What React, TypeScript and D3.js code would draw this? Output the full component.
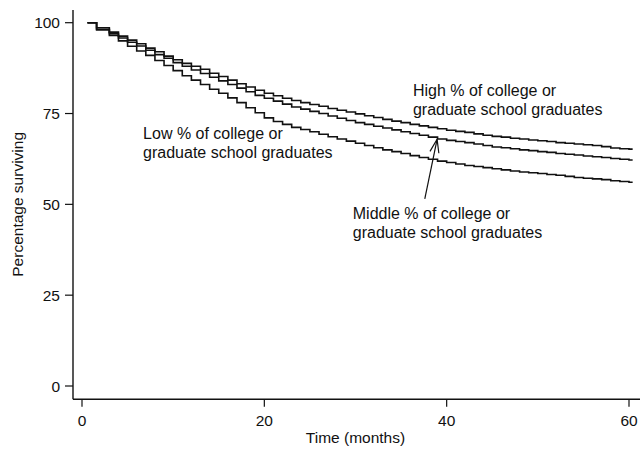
import React, { useRef, useEffect } from 'react';
import * as d3 from 'd3';

// Kaplan-Meier style survival estimates (percent surviving)
const months = [
  0.6, 1.6, 3, 4, 5, 6, 7, 8, 9, 10, 11, 12, 13, 14, 15, 16, 17, 18, 19, 20,
  21, 22, 23, 24, 25, 26, 27, 28, 29, 30, 31, 32, 33, 34, 35, 36, 37, 38, 39, 40,
  41, 42, 43, 44, 45, 46, 47, 48, 49, 50, 51, 52, 53, 54, 55, 56, 57, 58, 59, 60,
];
const followUpEnd = 60.4;

const highSurvival = [
  100, 98.6, 97.4, 96.3, 95.2, 94.2, 93.0, 92.0, 90.8, 89.8, 88.8, 88.0, 87.2, 86.1, 85.2, 84.2, 83.2, 82.3, 81.4, 80.6,
  79.9, 79.2, 78.6, 78.0, 77.5, 77.0, 76.4, 75.9, 75.4, 74.9, 74.4, 73.9, 73.4, 72.9, 72.5, 72.0, 71.6, 71.2, 70.8, 70.4,
  70.1, 69.8, 69.4, 69.0, 68.7, 68.5, 68.2, 68.0, 67.7, 67.5, 67.3, 67.0, 66.8, 66.6, 66.4, 66.2, 65.9, 65.5, 65.3, 65.2,
];
const middleSurvival = [
  100, 98.2, 97.0, 95.8, 94.6, 93.6, 92.4, 91.2, 90.2, 89.0, 88.0, 87.0, 86.0, 85.0, 84.0, 83.0, 82.0, 81.0, 80.0, 79.2,
  78.4, 77.6, 76.8, 76.2, 75.6, 75.0, 74.3, 73.7, 73.1, 72.5, 72.0, 71.5, 71.0, 70.5, 70.0, 69.5, 69.0, 68.5, 68.0, 67.6,
  67.3, 67.0, 66.6, 66.2, 65.8, 65.6, 65.3, 65.0, 64.8, 64.5, 64.3, 64.0, 63.8, 63.6, 63.3, 63.1, 62.9, 62.6, 62.4, 62.2,
];
const lowSurvival = [
  100, 98.0, 96.5, 95.0, 93.5, 92.2, 91.0, 89.6, 88.2, 86.8, 85.4, 84.2, 83.0, 81.7, 80.6, 79.3, 78.0, 76.6, 75.2, 73.8,
  72.8, 72.0, 71.2, 70.6, 70.0, 69.3, 68.6, 68.0, 67.4, 66.8, 66.2, 65.6, 65.0, 64.5, 64.0, 63.4, 62.9, 62.4, 61.9, 61.5,
  61.1, 60.7, 60.4, 60.1, 59.8, 59.5, 59.2, 58.9, 58.7, 58.5, 58.2, 58.0, 57.7, 57.4, 57.2, 57.0, 56.8, 56.5, 56.3, 56.1,
];

const xTicks = [0, 20, 40, 60];
const yTicks = [0, 25, 50, 75, 100];

const labels = [
  { lines: ['High % of college or', 'graduate school graduates'], month: 36.3, value: 79.8 },
  { lines: ['Low % of college or', 'graduate school graduates'], month: 6.7, value: 68.1 },
  { lines: ['Middle % of college or', 'graduate school graduates'], month: 29.7, value: 46.1 },
];
const arrow = { from: [37.6, 51.5], to: [38.95, 67.9] };

const FONT = '"Liberation Sans", Arial, Helvetica, sans-serif';

const App = () => {
  const ref = useRef<SVGSVGElement>(null);

  useEffect(() => {
    if (!ref.current) return;
    const svg = d3.select(ref.current);
    svg.selectAll('*').remove();

    const x = d3.scaleLinear().domain([0, 60]).range([82, 629]);
    const y = d3.scaleLinear().domain([0, 100]).range([386, 22.7]);
    const axisX = 73;
    const axisY = 399.3;
    const ink = '#111';

    // axes
    svg.append('line')
      .attr('x1', axisX).attr('x2', axisX).attr('y1', 10).attr('y2', axisY)
      .attr('stroke', ink).attr('stroke-width', 1.4);
    svg.append('line')
      .attr('x1', axisX).attr('x2', 640).attr('y1', axisY).attr('y2', axisY)
      .attr('stroke', ink).attr('stroke-width', 1.4);

    const yt = svg.append('g');
    yTicks.forEach(t => {
      yt.append('line')
        .attr('x1', axisX - 8).attr('x2', axisX).attr('y1', y(t)).attr('y2', y(t))
        .attr('stroke', ink).attr('stroke-width', 1.2);
      yt.append('text')
        .attr('x', axisX - 13).attr('y', y(t)).attr('dy', '0.36em')
        .attr('text-anchor', 'end')
        .style('font-family', FONT).style('font-size', '15.5px').style('fill', ink)
        .text(t);
    });

    const xt = svg.append('g');
    xTicks.forEach(t => {
      xt.append('line')
        .attr('x1', x(t)).attr('x2', x(t)).attr('y1', axisY).attr('y2', axisY + 7.5)
        .attr('stroke', ink).attr('stroke-width', 1.2);
      xt.append('text')
        .attr('x', x(t)).attr('y', 425.5)
        .attr('text-anchor', 'middle')
        .style('font-family', FONT).style('font-size', '15.5px').style('fill', ink)
        .text(t);
    });

    svg.append('text')
      .attr('x', (x(0) + x(60)) / 2).attr('y', 443)
      .attr('text-anchor', 'middle')
      .style('font-family', FONT).style('font-size', '15.5px').style('fill', ink)
      .text('Time (months)');

    svg.append('text')
      .attr('transform', `translate(23,${(y(0) + y(100)) / 2}) rotate(-90)`)
      .attr('text-anchor', 'middle')
      .style('font-family', FONT).style('font-size', '15.5px').style('fill', ink)
      .text('Percentage surviving');

    // survival curves
    const step = d3.line<[number, number]>()
      .x(d => x(d[0]))
      .y(d => y(d[1]))
      .curve(d3.curveStepAfter);

    [highSurvival, middleSurvival, lowSurvival].forEach(series => {
      const pts: [number, number][] = months.map((m, i) => [m, series[i]]);
      pts.push([followUpEnd, series[series.length - 1]]);
      svg.append('path')
        .datum(pts)
        .attr('fill', 'none')
        .attr('stroke', ink)
        .attr('stroke-width', 1.6)
        .attr('d', step);
    });

    // annotations
    labels.forEach(l => {
      const t = svg.append('text')
        .style('font-family', FONT).style('font-size', '16px').style('fill', ink);
      l.lines.forEach((line, i) => {
        t.append('tspan')
          .attr('x', x(l.month))
          .attr('y', y(l.value) + i * 19)
          .text(line);
      });
    });

    const x1 = x(arrow.from[0]), y1 = y(arrow.from[1]);
    const x2 = x(arrow.to[0]), y2 = y(arrow.to[1]);
    svg.append('line')
      .attr('x1', x1).attr('y1', y1).attr('x2', x2).attr('y2', y2)
      .attr('stroke', ink).attr('stroke-width', 1.2);
    const ang = Math.atan2(y1 - y2, x1 - x2);
    const len = 14, spread = 0.33;
    const wing = (a: number) => [x2 + len * Math.cos(a), y2 + len * Math.sin(a)];
    const w1 = wing(ang - spread), w2 = wing(ang + spread);
    svg.append('path')
      .attr('d', `M${w1[0]},${w1[1]}L${x2},${y2}L${w2[0]},${w2[1]}`)
      .attr('fill', 'none').attr('stroke', ink).attr('stroke-width', 1.2);
  }, []);

  return (
    <svg
      ref={ref}
      width={640}
      height={449}
      style={{ position: 'absolute', left: 0, top: 0, background: '#fff' }}
    />
  );
};

export default App;
